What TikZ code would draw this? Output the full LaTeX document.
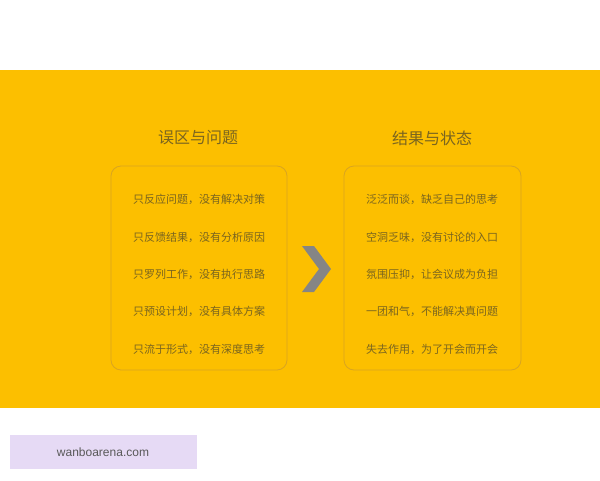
\documentclass[tikz,border=0pt]{standalone}
\usepackage{fontspec}
\newfontfamily\cjk{Noto Sans CJK SC}
\setmainfont{Liberation Sans}
\definecolor{band}{HTML}{FCBF00}
\definecolor{txt}{HTML}{7A6520}
\definecolor{bord}{HTML}{D9A520}
\definecolor{chev}{HTML}{858585}
\definecolor{wm}{HTML}{E6DAF5}
\tikzset{item/.style={text=txt,font=\cjk\fontsize{11}{13}\selectfont,anchor=center},
 title/.style={text=txt,font=\cjk\fontsize{16}{19}\selectfont},
 panel/.style={draw=bord,line width=0.8pt,rounded corners=10pt}}
\begin{document}
\begin{tikzpicture}[x=1pt,y=-1pt]
\useasboundingbox (0,0) rectangle (600,480);
\fill[white] (0,0) rectangle (600,480);
\fill[band] (0,70) rectangle (600,408);
\node[title] (t1) at (198,138) {误区与问题};
\node[title] (t2) at (432,138) {结果与状态};
\draw[panel] (111,166) rectangle (287,370);
\draw[panel] (344,166) rectangle (521,370);
\node[item] (a1) at (199,199) {只反应问题，没有解决对策};
\node[item] (a2) at (199,237) {只反馈结果，没有分析原因};
\node[item] (a3) at (199,274) {只罗列工作，没有执行思路};
\node[item] (a4) at (199,311) {只预设计划，没有具体方案};
\node[item] (a5) at (199,349) {只流于形式，没有深度思考};
\node[item] (b1) at (432,199) {泛泛而谈，缺乏自己的思考};
\node[item] (b2) at (432,237) {空洞乏味，没有讨论的入口};
\node[item] (b3) at (432,274) {氛围压抑，让会议成为负担};
\node[item] (b4) at (432,311) {一团和气，不能解决真问题};
\node[item] (b5) at (432,349) {失去作用，为了开会而开会};
\fill[chev] (302,246) -- (314,246) -- (331,269) -- (314,292) -- (302,292) -- (319,269) -- cycle;
\fill[wm] (10,435) rectangle (197,469);
\node[text=black!65,font=\fontsize{12}{14}\selectfont] (w) at (103,452) {wanboarena.com};
\end{tikzpicture}
\end{document}
